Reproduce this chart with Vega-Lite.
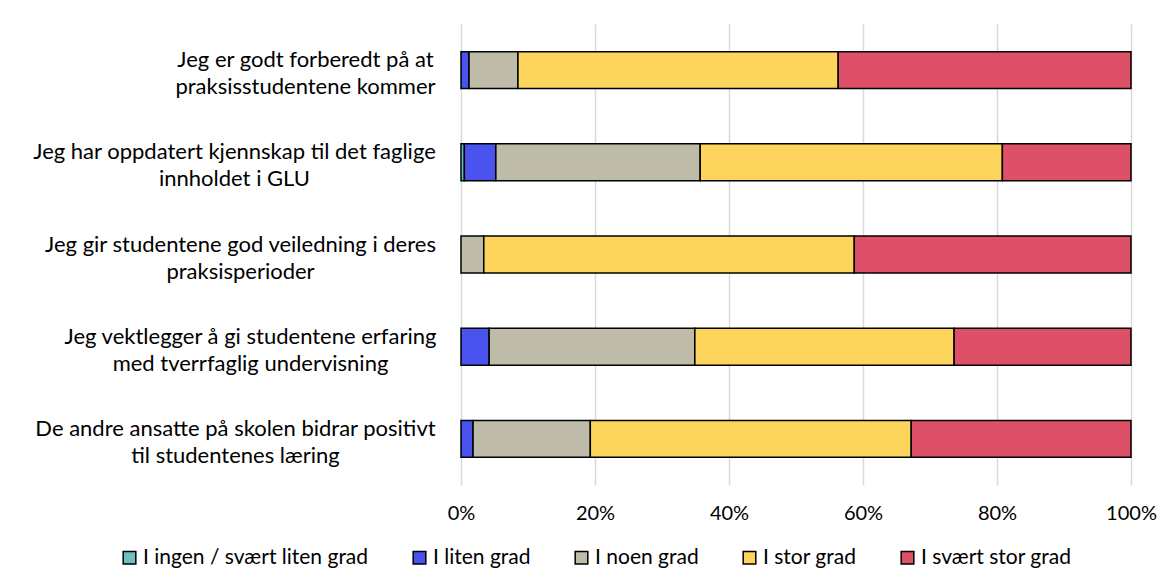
{
  "$schema": "https://vega.github.io/schema/vega-lite/v6.json",
  "width": 670,
  "height": 461,
  "autosize": {"type": "none"},
  "padding": {"left": 461, "top": 24, "right": 36, "bottom": 103},
  "background": "white",
  "config": {"view": {"stroke": null}, "font": "Lato"},
  "data": {
    "values": [
      {"statement": "Jeg er godt forberedt på at|praksisstudentene kommer", "resp": "I liten grad", "ord": 2, "pct": 1.2},
      {"statement": "Jeg er godt forberedt på at|praksisstudentene kommer", "resp": "I noen grad", "ord": 3, "pct": 7.3},
      {"statement": "Jeg er godt forberedt på at|praksisstudentene kommer", "resp": "I stor grad", "ord": 4, "pct": 47.8},
      {"statement": "Jeg er godt forberedt på at|praksisstudentene kommer", "resp": "I svært stor grad", "ord": 5, "pct": 43.7},
      {"statement": "Jeg har oppdatert kjennskap til det faglige|innholdet i GLU", "resp": "I ingen / svært liten grad", "ord": 1, "pct": 0.5},
      {"statement": "Jeg har oppdatert kjennskap til det faglige|innholdet i GLU", "resp": "I liten grad", "ord": 2, "pct": 4.7},
      {"statement": "Jeg har oppdatert kjennskap til det faglige|innholdet i GLU", "resp": "I noen grad", "ord": 3, "pct": 30.5},
      {"statement": "Jeg har oppdatert kjennskap til det faglige|innholdet i GLU", "resp": "I stor grad", "ord": 4, "pct": 45.1},
      {"statement": "Jeg har oppdatert kjennskap til det faglige|innholdet i GLU", "resp": "I svært stor grad", "ord": 5, "pct": 19.2},
      {"statement": "Jeg gir studentene god veiledning i deres|praksisperioder", "resp": "I noen grad", "ord": 3, "pct": 3.4},
      {"statement": "Jeg gir studentene god veiledning i deres|praksisperioder", "resp": "I stor grad", "ord": 4, "pct": 55.3},
      {"statement": "Jeg gir studentene god veiledning i deres|praksisperioder", "resp": "I svært stor grad", "ord": 5, "pct": 41.3},
      {"statement": "Jeg vektlegger å gi studentene erfaring|med tverrfaglig undervisning", "resp": "I liten grad", "ord": 2, "pct": 4.2},
      {"statement": "Jeg vektlegger å gi studentene erfaring|med tverrfaglig undervisning", "resp": "I noen grad", "ord": 3, "pct": 30.7},
      {"statement": "Jeg vektlegger å gi studentene erfaring|med tverrfaglig undervisning", "resp": "I stor grad", "ord": 4, "pct": 38.7},
      {"statement": "Jeg vektlegger å gi studentene erfaring|med tverrfaglig undervisning", "resp": "I svært stor grad", "ord": 5, "pct": 26.4},
      {"statement": "De andre ansatte på skolen bidrar positivt|til studentenes læring", "resp": "I liten grad", "ord": 2, "pct": 1.8},
      {"statement": "De andre ansatte på skolen bidrar positivt|til studentenes læring", "resp": "I noen grad", "ord": 3, "pct": 17.5},
      {"statement": "De andre ansatte på skolen bidrar positivt|til studentenes læring", "resp": "I stor grad", "ord": 4, "pct": 47.9},
      {"statement": "De andre ansatte på skolen bidrar positivt|til studentenes læring", "resp": "I svært stor grad", "ord": 5, "pct": 32.8}
    ]
  },
  "mark": {"type": "bar", "stroke": "black", "strokeWidth": 1.5},
  "encoding": {
    "y": {
      "field": "statement",
      "type": "nominal",
      "sort": null,
      "scale": {"paddingInner": 0.6, "paddingOuter": 0.3},
      "axis": {
        "title": null,
        "labelExpr": "split(datum.label, '|')",
        "labelAlign": "center",
        "labelBaseline": "middle",
        "labelLineHeight": 27,
        "labelOffset": -10,
        "labelFontSize": 22,
        "labelColor": "#000000",
        "labelLimit": 0,
        "ticks": false,
        "domain": false,
        "grid": false,
        "labelPadding": {
          "condition": [
            {"test": "datum.value == 'Jeg er godt forberedt på at|praksisstudentene kommer'", "value": 156},
            {"test": "datum.value == 'Jeg har oppdatert kjennskap til det faglige|innholdet i GLU'", "value": 227},
            {"test": "datum.value == 'Jeg gir studentene god veiledning i deres|praksisperioder'", "value": 221},
            {"test": "datum.value == 'Jeg vektlegger å gi studentene erfaring|med tverrfaglig undervisning'", "value": 211}
          ],
          "value": 226
        }
      }
    },
    "x": {
      "field": "pct",
      "type": "quantitative",
      "stack": "normalize",
      "scale": {"domain": [0, 1]},
      "axis": {
        "title": null,
        "format": ".0%",
        "values": [0, 0.2, 0.4, 0.6, 0.8, 1],
        "grid": true,
        "gridColor": "#d9d9d9",
        "gridWidth": 1.5,
        "domain": false,
        "ticks": false,
        "labelFlush": false,
        "labelFontSize": 20,
        "labelColor": "#000000",
        "labelPadding": 18
      }
    },
    "color": {
      "field": "resp",
      "type": "nominal",
      "scale": {
        "domain": ["I ingen / svært liten grad", "I liten grad", "I noen grad", "I stor grad", "I svært stor grad"],
        "range": ["#6cbfbf", "#4b53ef", "#bebca8", "#fed55c", "#de4f68"]
      },
      "legend": {
        "orient": "none",
        "direction": "horizontal",
        "legendX": -342,
        "legendY": 523,
        "title": null,
        "symbolType": "square",
        "symbolSize": 160,
        "symbolStrokeColor": "#000000",
        "symbolStrokeWidth": 1.5,
        "labelFontSize": 21,
        "labelColor": "#000000",
        "labelOffset": 3,
        "columnPadding": 40,
        "labelLimit": 0
      }
    },
    "order": {"field": "ord", "type": "quantitative"}
  }
}
